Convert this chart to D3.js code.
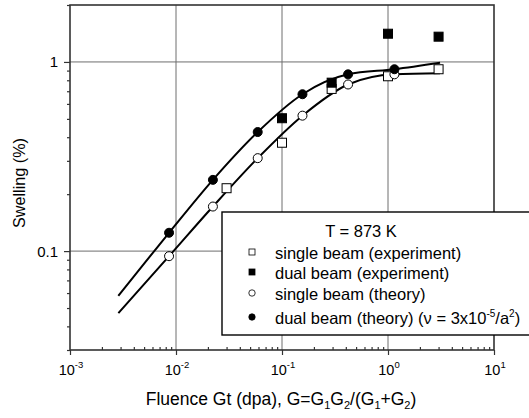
<!DOCTYPE html>
<html>
<head>
<meta charset="utf-8">
<script src="https://cdn.jsdelivr.net/npm/d3@7"></script>
<style>
  body { margin: 0; background: #fff; overflow: hidden; }
  svg { display: block; }
  text { font-family: "Liberation Sans", Arial, sans-serif; fill: #000; }
</style>
</head>
<body>
<svg id="chart" width="529" height="418"></svg>
<script>
// Experimental points (fluence in dpa, swelling in %)
const singleExpFluence = [0.03, 0.1, 0.294, 1.0, 3.0];
const singleExpSwelling = [0.215, 0.374, 0.72, 0.84, 0.915];
const dualExpFluence = [0.1, 0.294, 1.0, 3.0];
const dualExpSwelling = [0.504, 0.777, 1.41, 1.36];

// Theory points
const theoryFluence = [0.0086, 0.0223, 0.059, 0.156, 0.42, 1.15];
const singleTheorySwelling = [0.094, 0.172, 0.31, 0.52, 0.76, 0.86];
const dualTheorySwelling = [0.125, 0.238, 0.426, 0.675, 0.86, 0.915];

// Theory curves
const curveFluence = [0.00286, 0.0086, 0.0223, 0.059, 0.156, 0.42, 1.15, 3.1];
const singleCurveSwelling = [0.047, 0.094, 0.172, 0.31, 0.52, 0.76, 0.86, 0.871];
const dualCurveSwelling = [0.058, 0.125, 0.238, 0.426, 0.675, 0.86, 0.915, 0.99];

// Axis ticks
const xMajorTicks = [1e-3, 1e-2, 1e-1, 1, 10];
const xTickExponents = ["-3", "-2", "-1", "0", "1"];
const yMajorTicks = [0.1, 1];
const yTickLabels = ["0.1", "1"];

const legendLabels = [
  "single beam (experiment)",
  "dual beam (experiment)",
  "single beam (theory)",
  "dual beam (theory)"
];

const margin = { top: 5, right: 35, bottom: 68, left: 70 };
const width = 529, height = 418;
const innerWidth = width - margin.left - margin.right;
const innerHeight = height - margin.top - margin.bottom;

const svg = d3.select("#chart");
const plot = svg.append("g").attr("transform", `translate(${margin.left},${margin.top})`);

const x = d3.scaleLog().domain([1e-3, 10]).range([0, innerWidth]);
const y = d3.scaleLog().domain([0.03, 2]).range([innerHeight, 0]);

// minor ticks: 2..9 in every decade
const minorTicks = (lo, hi) => {
  const out = [];
  for (let e = -4; e <= 1; e++) {
    for (let m = 2; m <= 9; m++) {
      const v = m * Math.pow(10, e);
      if (v >= lo * 0.999 && v <= hi * 1.001) out.push(v);
    }
  }
  return out;
};

// Grid lines
plot.append("g").selectAll("line.gx")
  .data(xMajorTicks.slice(1, -1)).join("line")
  .attr("x1", d => x(d)).attr("x2", d => x(d))
  .attr("y1", 0).attr("y2", innerHeight)
  .attr("stroke", "#6e6e6e").attr("stroke-width", 1);
plot.append("g").selectAll("line.gy")
  .data(yMajorTicks).join("line")
  .attr("x1", 0).attr("x2", innerWidth)
  .attr("y1", d => y(d)).attr("y2", d => y(d))
  .attr("stroke", "#6e6e6e").attr("stroke-width", 1);

// Axes
const styleAxis = g => {
  g.select(".domain").remove();
  g.selectAll(".tick line").attr("stroke", "#333").attr("stroke-width", 1.2);
};
plot.append("g").attr("transform", `translate(0,${innerHeight})`)
  .call(d3.axisBottom(x).tickValues(xMajorTicks).tickSize(5).tickFormat(""))
  .call(styleAxis);
plot.append("g").attr("transform", `translate(0,${innerHeight})`)
  .call(d3.axisBottom(x).tickValues(minorTicks(1e-3, 10)).tickSize(-3).tickFormat(""))
  .call(styleAxis);
plot.append("g")
  .call(d3.axisLeft(y).tickValues(yMajorTicks).tickSize(6).tickFormat(""))
  .call(styleAxis);
plot.append("g")
  .call(d3.axisLeft(y).tickValues(minorTicks(0.03, 2)).tickSize(3).tickFormat(""))
  .call(styleAxis);

// Frame
plot.append("rect")
  .attr("width", innerWidth).attr("height", innerHeight)
  .attr("fill", "none").attr("stroke", "#333").attr("stroke-width", 1.6);

// Tick labels
const xLabels = plot.append("g").selectAll("text")
  .data(xMajorTicks).join("text")
  .attr("x", d => x(d) + 1).attr("y", innerHeight + 25)
  .attr("text-anchor", "middle").attr("font-size", 14.5);
xLabels.append("tspan").text("10");
xLabels.append("tspan").attr("dy", -7).attr("font-size", 9.5)
  .text((d, i) => xTickExponents[i]);

plot.append("g").selectAll("text")
  .data(yMajorTicks).join("text")
  .attr("x", -12).attr("y", d => y(d) + 5.5)
  .attr("text-anchor", "end").attr("font-size", 15)
  .text((d, i) => yTickLabels[i]);

// Axis titles
const xTitle = svg.append("text")
  .attr("x", 281).attr("y", 405)
  .attr("text-anchor", "middle").attr("font-size", 17.5);
xTitle.append("tspan").text("Fluence Gt (dpa), G=G");
const sub = t => xTitle.append("tspan").attr("dy", 4).attr("font-size", 11).text(t);
const norm = t => xTitle.append("tspan").attr("dy", -4).text(t);
sub("1"); norm("G"); sub("2"); norm("/(G"); sub("1"); norm("+G"); sub("2"); norm(")");

svg.append("text")
  .attr("transform", `translate(25,${margin.top + 178}) rotate(-90)`)
  .attr("text-anchor", "middle").attr("font-size", 16.2)
  .text("Swelling (%)");

// Theory curves
const line = d3.line()
  .curve(d3.curveMonotoneX)
  .x(d => x(d[0])).y(d => y(d[1]));
plot.append("path")
  .datum(d3.zip(curveFluence, singleCurveSwelling))
  .attr("d", line).attr("fill", "none").attr("stroke", "#000").attr("stroke-width", 2);
plot.append("path")
  .datum(d3.zip(curveFluence, dualCurveSwelling))
  .attr("d", line).attr("fill", "none").attr("stroke", "#000").attr("stroke-width", 2);

// Markers
const squares = (fl, sw, fill, size) => plot.append("g").selectAll("rect")
  .data(d3.zip(fl, sw)).join("rect")
  .attr("x", d => x(d[0]) - size / 2).attr("y", d => y(d[1]) - size / 2)
  .attr("width", size).attr("height", size)
  .attr("fill", fill).attr("stroke", "#000").attr("stroke-width", 1);
const circles = (fl, sw, fill, r) => plot.append("g").selectAll("circle")
  .data(d3.zip(fl, sw)).join("circle")
  .attr("cx", d => x(d[0])).attr("cy", d => y(d[1])).attr("r", r)
  .attr("fill", fill).attr("stroke", "#000").attr("stroke-width", 1);

squares(singleExpFluence, singleExpSwelling, "#fff", 9);
squares(dualExpFluence, dualExpSwelling, "#000", 9);
circles(theoryFluence, singleTheorySwelling, "#fff", 4.5);
circles(theoryFluence, dualTheorySwelling, "#000", 4.5);

// Legend (box runs to the right edge, as in the source figure)
const legend = svg.append("g").attr("transform", "translate(222,212)");
legend.append("rect")
  .attr("width", 310).attr("height", 123)
  .attr("fill", "#fff").attr("stroke", "#000").attr("stroke-width", 1.4);
legend.append("text").attr("x", 139).attr("y", 25)
  .attr("text-anchor", "middle").attr("font-size", 16.5).text("T = 873 K");

const rowY = [40, 60, 81, 105];
const rows = legend.selectAll("g.row").data(legendLabels).join("g")
  .attr("transform", (d, i) => `translate(0,${rowY[i]})`);
rows.each(function (d, i) {
  const g = d3.select(this);
  if (i < 2) {
    g.append("rect").attr("x", 27).attr("y", -3).attr("width", 6).attr("height", 6)
      .attr("fill", i === 0 ? "#fff" : "#000").attr("stroke", "#000").attr("stroke-width", 0.8);
  } else {
    g.append("circle").attr("cx", 30).attr("cy", 0).attr("r", 3.2)
      .attr("fill", i === 2 ? "#fff" : "#000").attr("stroke", "#000").attr("stroke-width", 0.8);
  }
  const t = g.append("text").attr("x", 53).attr("y", 7).attr("font-size", 16.5).text(d);
  if (i === 3) {
    t.append("tspan").text(" (\u03bd = 3x10");
    t.append("tspan").attr("dy", -7).attr("font-size", 10).text("-5");
    t.append("tspan").attr("dy", 7).text("/a");
    t.append("tspan").attr("dy", -7).attr("font-size", 10).text("2");
    t.append("tspan").attr("dy", 7).text(")");
  }
});
</script>
</body>
</html>
